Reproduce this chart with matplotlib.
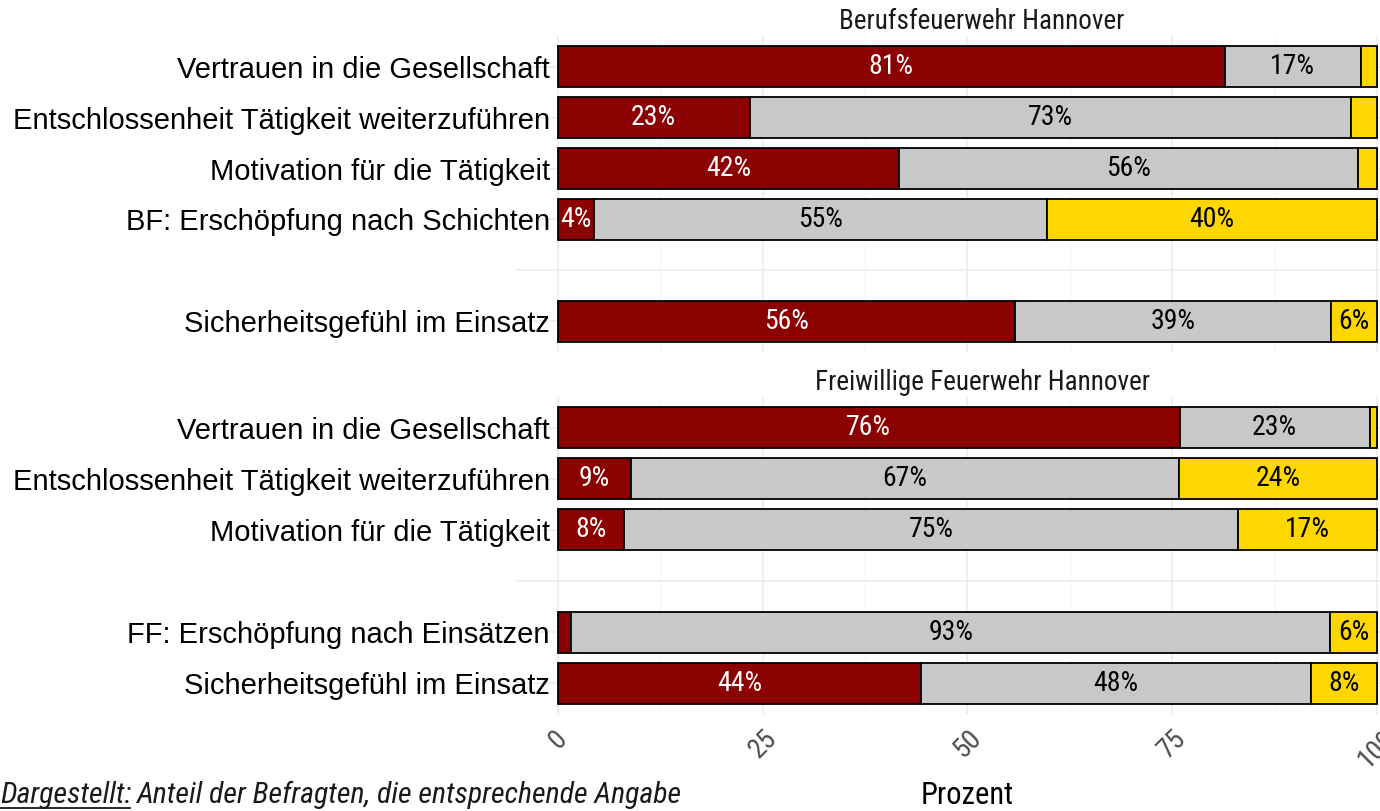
import matplotlib
matplotlib.use("Agg")
import matplotlib.pyplot as plt
from matplotlib import font_manager
from matplotlib.lines import Line2D
from matplotlib.ticker import MultipleLocator


def pick_font(names):
    installed = {f.name for f in font_manager.fontManager.ttflist}
    for name in names:
        if name in installed:
            return name
    return "DejaVu Sans"


NARROW = pick_font(["Liberation Sans Narrow", "Roboto Condensed", "Open Sans Condensed", "Roboto"])
REGULAR = pick_font(["Liberation Sans", "Arial", "DejaVu Sans"])

# Daten
panel_titles = ["Berufsfeuerwehr Hannover", "Freiwillige Feuerwehr Hannover"]

bf_items = [
    "Vertrauen in die Gesellschaft",
    "Entschlossenheit Tätigkeit weiterzuführen",
    "Motivation für die Tätigkeit",
    "BF: Erschöpfung nach Schichten",
    "",
    "Sicherheitsgefühl im Einsatz",
]
bf_red = [81.4, 23.4, 41.6, 4.4, 0, 55.8]
bf_grey = [16.6, 73.4, 56.1, 55.3, 0, 38.6]
bf_yellow = [2.0, 3.2, 2.3, 40.3, 0, 5.6]

ff_items = [
    "Vertrauen in die Gesellschaft",
    "Entschlossenheit Tätigkeit weiterzuführen",
    "Motivation für die Tätigkeit",
    "",
    "FF: Erschöpfung nach Einsätzen",
    "Sicherheitsgefühl im Einsatz",
]
ff_red = [75.9, 8.9, 8.1, 0, 1.6, 44.3]
ff_grey = [23.2, 66.9, 74.9, 0, 92.7, 47.6]
ff_yellow = [0.9, 24.2, 17.0, 0, 5.7, 8.1]

x_ticks = [0, 25, 50, 75, 100]

colors = ["#8B0000", "#C8C8C8", "#FFD700"]
text_colors = ["white", "black", "black"]

fig = plt.figure(figsize=(13.8, 8.11), dpi=100)

panels = [
    (bf_items, [bf_red, bf_grey, bf_yellow], [0.3746, 0.566, 0.6254, 0.3896]),
    (ff_items, [ff_red, ff_grey, ff_yellow], [0.3746, 0.1196, 0.6254, 0.391]),
]

axes = []
for p, (items, series, rect) in enumerate(panels):
    ax = fig.add_axes(rect)
    axes.append(ax)
    pos = list(range(len(items)))
    left = [0] * len(items)
    for k, vals in enumerate(series):
        # leere Zeilen (Abstand) nicht zeichnen
        keep = [i for i, v in enumerate(vals) if v > 0]
        ax.barh([pos[i] for i in keep], [vals[i] for i in keep],
                left=[left[i] for i in keep], height=0.8, color=colors[k],
                edgecolor="black", linewidth=1.3, zorder=3)
        for i, v in enumerate(vals):
            if v >= 4:
                ax.text(left[i] + v / 2, pos[i], f"{round(v):.0f}%",
                        ha="center", va="center", color=text_colors[k],
                        fontsize=20, family=NARROW, zorder=4)
        left = [a + b for a, b in zip(left, vals)]

    ax.set_xlim(-5, 100.37)
    ax.set_ylim(len(items) - 0.4, -0.6)
    ax.set_yticks(pos)
    ax.set_yticklabels([t + " " if t else "" for t in items],
                       fontsize=21, family=REGULAR, color="black")
    ax.tick_params(axis="y", length=0, pad=-29.5)
    ax.xaxis.set_major_locator(MultipleLocator(25))
    ax.xaxis.set_minor_locator(MultipleLocator(12.5))
    ax.grid(True, which="major", color="#EBEBEB", linewidth=1.1, zorder=0)
    ax.grid(True, which="minor", axis="x", color="#F2F2F2", linewidth=0.7, zorder=0)
    for s in ax.spines.values():
        s.set_visible(False)
    ax.tick_params(axis="x", which="both", length=0)
    for lab in ax.get_yticklabels():
        lab.set_zorder(5)

    ax.text(51.8, -0.62, panel_titles[p], ha="center", va="bottom",
            fontsize=19.5, family=NARROW, color="#1A1A1A",
            transform=ax.transData, clip_on=False)

axes[0].set_xticklabels([])
ax = axes[1]
ax.set_xticks(x_ticks)
ax.set_xticklabels([str(t) for t in x_ticks], rotation=45, ha="center", va="top",
                   fontsize=20, family=NARROW, color="#4D4D4D")
ax.tick_params(axis="x", pad=8)
ax.set_xlabel("Prozent", fontsize=22, family=NARROW, color="black")
ax.xaxis.set_label_coords(0.522, -0.21)

cap_y = 0.0095
cap1 = fig.text(0.0, cap_y, "Dargestellt:", fontsize=21.5, family=NARROW,
                style="italic", color="#1A1A1A", ha="left", va="baseline")
fig.canvas.draw()
bb = cap1.get_window_extent(renderer=fig.canvas.get_renderer())
inv = fig.transFigure.inverted()
x0, y0 = inv.transform((bb.x0, bb.y0))
x1, _ = inv.transform((bb.x1, bb.y0))
fig.add_artist(Line2D([x0, x1 - 0.001], [cap_y - 0.006, cap_y - 0.006], color="#1A1A1A",
                      linewidth=1.3, transform=fig.transFigure))
fig.text(x1 + 0.004, cap_y, "Anteil der Befragten, die entsprechende Angabe",
         fontsize=21.5, family=NARROW, style="italic", color="#1A1A1A",
         ha="left", va="baseline")

fig.savefig("out.png", dpi=100, facecolor="white")
